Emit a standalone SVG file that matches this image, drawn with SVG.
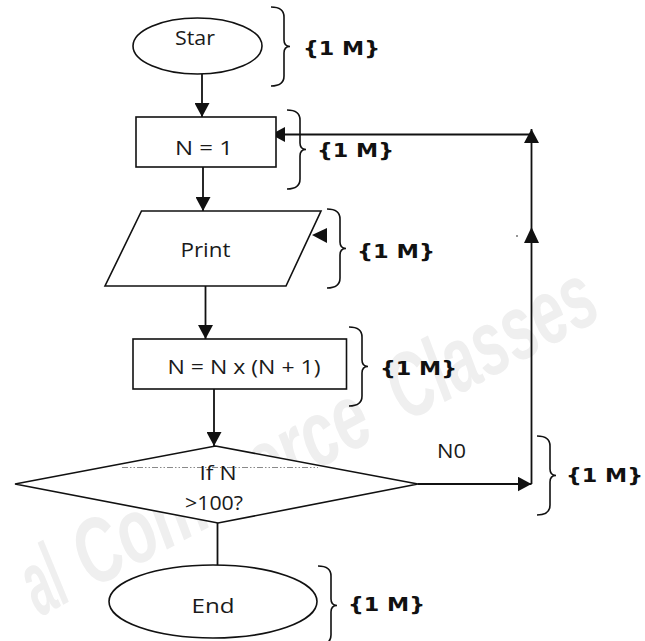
<svg xmlns="http://www.w3.org/2000/svg" width="645" height="641" viewBox="0 0 645 641">
  <style>
    .shape { fill: #ffffff; stroke: #111111; stroke-width: 1.6; }
    .line { fill: none; stroke: #111111; stroke-width: 1.8; }
    .brace { fill: none; stroke: #111111; stroke-width: 1.6; }
    .label { font-family: "Open Sans", "Noto Sans", "Liberation Sans", sans-serif; font-size: 20px; fill: #1a1a1a; text-anchor: middle; }
    .mark { font-family: "DejaVu Sans", Verdana, sans-serif; font-weight: bold; font-size: 20px; fill: #111111; }
    .wm { font-family: "Liberation Sans", Arial, sans-serif; font-weight: bold; font-style: italic; font-size: 92px; fill: #efefef; }
  </style>
  <defs>
    <marker id="arrow" markerUnits="userSpaceOnUse" markerWidth="14" markerHeight="15" refX="14" refY="7.5" orient="auto">
      <path d="M0,0 L14,7.5 L0,15 z" fill="#111111"/>
    </marker>
    <path id="brace-shape" class="brace" d="M0,0 C8,0 13,3 13,10 L13,33 C13,37 15,39.5 19,39.5 C15,39.5 13,42 13,46 L13,69 C13,76 8,79 0,79"/>
  </defs>

  <rect width="645" height="641" fill="#ffffff"/>

  <!-- background watermark: condensed words placed along a baseline tilted by 28 degrees -->
  <g id="watermark">
    <text class="wm" transform="translate(40,617) rotate(-28) scale(0.5,1)">al</text>
    <text class="wm" transform="translate(92.3,589.1) rotate(-28) scale(0.68,1)">Commerce</text>
    <text class="wm" transform="translate(405.8,422.6) rotate(-28) scale(0.647,1)">Classes</text>
  </g>

  <!-- connectors -->
  <g id="connectors">
    <line class="line" x1="202" y1="74" x2="202" y2="117" marker-end="url(#arrow)"/>
    <line class="line" x1="203" y1="167" x2="203" y2="211" marker-end="url(#arrow)"/>
    <line class="line" x1="205.5" y1="286" x2="205.5" y2="339" marker-end="url(#arrow)"/>
    <line class="line" x1="214" y1="389" x2="214" y2="446" marker-end="url(#arrow)"/>
    <line class="line" x1="217.5" y1="523" x2="217.5" y2="565"/>
    <line class="line" x1="418" y1="484" x2="531.5" y2="484" marker-end="url(#arrow)"/>
    <line class="line" x1="531.5" y1="484" x2="531.5" y2="129" marker-end="url(#arrow)"/>
    <polygon points="524,243 539,243 531.5,227" fill="#111111"/>
    <circle cx="517" cy="236" r="0.8" fill="#111111"/>
    <line class="line" x1="531.5" y1="134.5" x2="271" y2="134.5" marker-end="url(#arrow)"/>
    <polygon points="312,235 327,228 327,243" fill="#111111"/>
    <text class="label" x="451.5" y="458" textLength="29" lengthAdjust="spacingAndGlyphs">N0</text>
  </g>

  <!-- flowchart nodes -->
  <g id="start">
    <ellipse class="shape" cx="197.5" cy="46" rx="64.5" ry="28"/>
    <text class="label" x="195" y="45" textLength="40" lengthAdjust="spacingAndGlyphs">Star</text>
  </g>

  <g id="n-init">
    <rect class="shape" x="136" y="117" width="140" height="50"/>
    <text class="label" x="204" y="155" textLength="58" lengthAdjust="spacingAndGlyphs">N = 1</text>
  </g>

  <g id="print">
    <polygon class="shape" points="141.5,211 321,211 286,286 105,286"/>
    <text class="label" x="205.5" y="256.5" textLength="50" lengthAdjust="spacingAndGlyphs">Print</text>
  </g>

  <g id="n-update">
    <rect class="shape" x="133" y="339" width="213.5" height="50"/>
    <text class="label" x="244" y="374" textLength="153" lengthAdjust="spacingAndGlyphs">N = N x (N + 1)</text>
  </g>

  <g id="decision">
    <polygon class="shape" points="215.5,446 418,484 218,523 15,484"/>
    <line x1="122" y1="467.5" x2="318" y2="467.5" stroke="#8a8a8a" stroke-width="1" stroke-dasharray="6 2 1.5 2 1.5 2"/>
    <text class="label" x="218" y="480" textLength="37" lengthAdjust="spacingAndGlyphs">If N</text>
    <text class="label" x="214" y="510" textLength="58" lengthAdjust="spacingAndGlyphs">&gt;100?</text>
  </g>

  <g id="end">
    <ellipse class="shape" cx="213" cy="601.5" rx="104" ry="36.5"/>
    <text class="label" x="213" y="613" textLength="43" lengthAdjust="spacingAndGlyphs">End</text>
  </g>

  <!-- mark allotment braces -->
  <g id="mark-start">
    <use href="#brace-shape" transform="translate(271,7)"/>
    <text class="mark" x="303" y="55" textLength="77" lengthAdjust="spacingAndGlyphs">{1 M}</text>
  </g>
  <g id="mark-n-init">
    <use href="#brace-shape" transform="translate(287,110)"/>
    <text class="mark" x="317" y="157" textLength="77" lengthAdjust="spacingAndGlyphs">{1 M}</text>
  </g>
  <g id="mark-print">
    <use href="#brace-shape" transform="translate(327,209)"/>
    <text class="mark" x="357" y="258" textLength="78" lengthAdjust="spacingAndGlyphs">{1 M}</text>
  </g>
  <g id="mark-n-update">
    <use href="#brace-shape" transform="translate(349,327)"/>
    <text class="mark" x="380" y="375" textLength="77" lengthAdjust="spacingAndGlyphs">{1 M}</text>
  </g>
  <g id="mark-decision">
    <use href="#brace-shape" transform="translate(537,436)"/>
    <text class="mark" x="566" y="482" textLength="77" lengthAdjust="spacingAndGlyphs">{1 M}</text>
  </g>
  <g id="mark-end">
    <use href="#brace-shape" transform="translate(318,566)"/>
    <text class="mark" x="348" y="611" textLength="77" lengthAdjust="spacingAndGlyphs">{1 M}</text>
  </g>
</svg>
